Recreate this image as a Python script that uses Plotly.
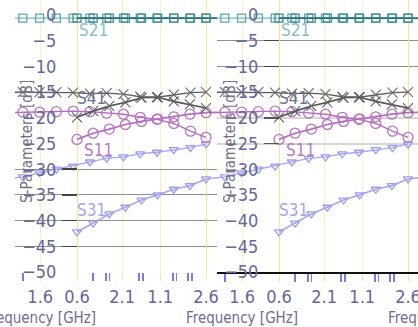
import plotly.graph_objects as go

# ---------------- data ----------------
FREQ_A = [0.6, 0.85, 1.1, 1.35, 1.6, 1.85, 2.1, 2.35, 2.6]
FREQ_B = [-0.24, 0.02, 0.28, 0.54, 0.8, 1.06, 1.32, 1.58, 1.84, 2.1, 2.36, 2.6]
WRAP_BEFORE = -0.53   # previous lap's last point, seen at the tile's left edge
WRAP_AFTER = 2.89     # next lap's first point, seen at the tile's right edge

S21_A = [-0.6, -0.6, -0.6, -0.6, -0.6, -0.6, -0.6, -0.6, -0.6]
S21_B = [-0.6, -0.6, -0.6, -0.6, -0.6, -0.6, -0.6, -0.6, -0.6, -0.6, -0.6, -0.6]
S21_IN, S21_OUT = -0.6, -0.6

S41_A = [-19.9, -18.7, -17.7, -17.0, -16.1, -16.0, -16.8, -17.4, -18.1]
S41_B = [-15.0, -15.0, -15.0, -15.1, -15.3, -15.2, -15.4, -15.9, -16.0, -15.5, -15.1, -15.0]
S41_IN, S41_OUT = -15.0, None

S11_A = [-24.2, -23.0, -22.2, -21.3, -20.7, -20.2, -19.8, -19.3, -19.0]
S11_B = [-18.9, -18.9, -18.8, -18.7, -18.8, -19.1, -19.3, -19.9, -20.3, -21.1, -22.6, -23.8]
S11_IN, S11_OUT = -19.0, -18.9

S31_A = [-42.2, -40.5, -38.7, -37.4, -36.0, -35.0, -33.9, -33.2, -31.9]
S31_B = [-31.5, -30.7, -30.0, -29.4, -28.6, -27.9, -27.6, -27.0, -26.7, -26.2, -25.8, -25.1]
S31_IN, S31_OUT = -31.9, -31.5

XTICK_VALS = [0.03, 0.6, 1.3, 1.89, 2.6]
XTICK_TEXT = ["1.6", "0.6", "2.1", "1.1", "2.6"]
XBRIGHT_VALS = [0.6, 2.6]
MINOR_TICKS = [-0.24, 0.85, 1.05, 1.1, 1.56, 1.62, 2.09, 2.14, 2.32, 2.38]
YTICK_VALS = [0, -5, -10, -15, -20, -25, -30, -35, -40, -45, -50]
GRID_LEFT = [-30, -35, -40, -45]
GRID_RIGHT = [-5, -10]
GRID_RIGHT_LIGHT = [-20, -25]

LABELS = [("S21", 0.86, -2.9, "#86c0cc"), ("S41", 0.82, -16.2, "#6d7593"),
          ("S11", 0.93, -26.3, "#b77ac6"), ("S31", 0.83, -38.0, "#a6a6ee")]

# ---------------- styling ----------------
W, H = 418, 327
FONT = "Liberation Sans Narrow, DejaVu Sans Condensed, Arial Narrow, sans-serif"
TICKCOL = "#66669a"
PXPG = 64.5                 # pixels per GHz
X0 = 0.6 - 62 / PXPG
YR = [-50, 2.92]
YDOM = [55 / H, 1]

series = [
    # name, A, B, IN, OUT, symbol, colA(line), mA, colB(line), mB, size, marker line width
    ("S31", S31_A, S31_B, S31_IN, S31_OUT, "triangle-down-open", "#a9a9f2", "#9d9df0", "#a9a9f2", "#9d9df0", 8, 1.3),
    ("S11", S11_A, S11_B, S11_IN, S11_OUT, "circle-open", "#b46cc0", "#b673c4", "#b46cc0", "#b673c4", 10, 1.3),
    ("S41", S41_A, S41_B, S41_IN, S41_OUT, "x-thin-open", "#555555", "#616161", "#5c5c5c", "#696969", 10, 1.1),
    ("S21", S21_A, S21_B, S21_IN, S21_OUT, "square-open", "#1e6e75", "#3d8c94", "#79b9c0", "#5aa7b0", 8, 1.3),
]

fig = go.Figure()

tiles = [
    dict(x="x", y="y", xg="x3", yg="y3", yl="y5", x0px=15, x1px=217),
    dict(x="x2", y="y2", xg="x4", yg="y4", yl="y6", x0px=217, x1px=418),
]

for ti, t in enumerate(tiles):
    for name, A, B, IN, OUT, sym, colA, mA, colB, mB, size, mlw in series:
        xa = FREQ_A + ([WRAP_AFTER] if OUT is not None else [])
        ya = A + ([OUT] if OUT is not None else [])
        xb = [WRAP_BEFORE] + FREQ_B
        yb = [IN] + B
        for xx, yy, lc, mc, wd in ((xb, yb, colB, mB, 1.4), (xa, ya, colA, mA, 1.7)):
            fig.add_trace(go.Scatter(
                x=xx, y=yy, xaxis=t["x"], yaxis=t["y"], mode="lines+markers",
                line=dict(color=lc, width=wd),
                marker=dict(symbol=sym, size=size, color=mc,
                            line=dict(color=mc, width=mlw)),
                showlegend=False, hoverinfo="skip"))
    # empty traces that register the grid-overlay subplots
    fig.add_trace(go.Scatter(x=[], y=[], xaxis=t["x"], yaxis=t["yg"], showlegend=False))
    fig.add_trace(go.Scatter(x=[], y=[], xaxis=t["xg"], yaxis=t["y"], showlegend=False))
    if ti == 1:
        fig.add_trace(go.Scatter(x=[], y=[], xaxis=t["x"], yaxis=t["yl"], showlegend=False))
    for txt, lx, ly, c in LABELS:
        fig.add_annotation(text=txt, x=lx, y=ly, xref=t["x"], yref=t["y"],
                           showarrow=False, font=dict(family=FONT, size=17, color=c))

layout = dict(width=W, height=H, margin=dict(l=0, r=0, t=0, b=0, pad=0, autoexpand=False),
              paper_bgcolor="white", plot_bgcolor="white", showlegend=False,
              font=dict(family=FONT, size=17, color=TICKCOL))


def key(a):
    return a.replace("x", "xaxis").replace("y", "yaxis")


for ti, t in enumerate(tiles):
    dom = [t["x0px"] / W, t["x1px"] / W]
    xr = [X0, X0 + (t["x1px"] - t["x0px"]) / PXPG]
    ypos = (t["x0px"] + 62) / W
    layout[key(t["x"])] = dict(
        domain=dom, anchor=t["y"], range=xr, tickmode="array", automargin=False,
        tickvals=XTICK_VALS, ticktext=XTICK_TEXT, showgrid=True, gridcolor="#f7f2bd",
        gridwidth=1, ticks="outside", ticklen=8, tickcolor="#f3ea98", zeroline=False,
        showline=(ti == 1), linecolor="#111111", linewidth=1.5,
        ticklabeloverflow="allow",
        tickfont=dict(family=FONT, size=18, color=TICKCOL),
        minor=dict(tickmode="array", tickvals=MINOR_TICKS, ticks="outside", ticklen=8,
                   tickcolor="#7a7aea", tickwidth=1.5, showgrid=False))
    layout[key(t["xg"])] = dict(
        overlaying=t["x"], anchor=t["y"], range=xr, tickmode="array", automargin=False,
        tickvals=XBRIGHT_VALS, showticklabels=False, showgrid=True,
        gridcolor="#f1e78f", gridwidth=1, ticks="", zeroline=False, showline=False)
    layout[key(t["y"])] = dict(
        domain=YDOM, anchor="free", position=ypos, range=YR, tickmode="array",
        automargin=False,
        tickvals=YTICK_VALS, showgrid=False, zeroline=False, showline=False,
        ticks="outside", ticklen=15, tickcolor="rgba(0,0,0,0)", ticklabelstandoff=2,
        ticklabeloverflow="allow",
        tickfont=dict(family=FONT, size=18, color=TICKCOL))
    grid_vals = GRID_LEFT if ti == 0 else GRID_RIGHT
    layout[key(t["yg"])] = dict(
        overlaying=t["y"], anchor="free", position=ypos, range=YR, tickmode="array",
        automargin=False,
        tickvals=grid_vals, showticklabels=False, showgrid=True, gridcolor="#8f8f8f",
        gridwidth=1, zeroline=False, showline=False,
        ticks="outside", ticklen=15, tickcolor="#444444", tickwidth=1.5)
    if ti == 1:
        layout[key(t["yl"])] = dict(
            overlaying=t["y"], anchor="free", position=ypos, range=YR, tickmode="array",
            automargin=False,
            tickvals=GRID_RIGHT_LIGHT, showticklabels=False, showgrid=True,
            gridcolor="#d6d6d6", gridwidth=2, zeroline=False, showline=False,
            ticks="outside", ticklen=15, tickcolor="#555555", tickwidth=1.5)

fig.update_layout(**layout)

# axis titles (placed as text, as in the picture)
for cx in (40, 242, 444):
    fig.add_annotation(text="Frequency [GHz]", x=cx / W, y=(H - 318) / H, xref="paper",
                       yref="paper", showarrow=False, xanchor="center", yanchor="middle",
                       font=dict(family=FONT, size=15, color="#6d6d8d"))
for cx in (27, 230):
    fig.add_annotation(text="S-Parameters [dB]", x=cx / W, y=(H - 142) / H, xref="paper",
                       yref="paper", showarrow=False, textangle=-90, xanchor="center",
                       yanchor="middle", font=dict(family=FONT, size=15, color="#717186"))

fig.write_html("out.html", config={"displayModeBar": False, "staticPlot": True},
               post_script="document.body.style.margin='0px';document.body.style.overflow='hidden';")
